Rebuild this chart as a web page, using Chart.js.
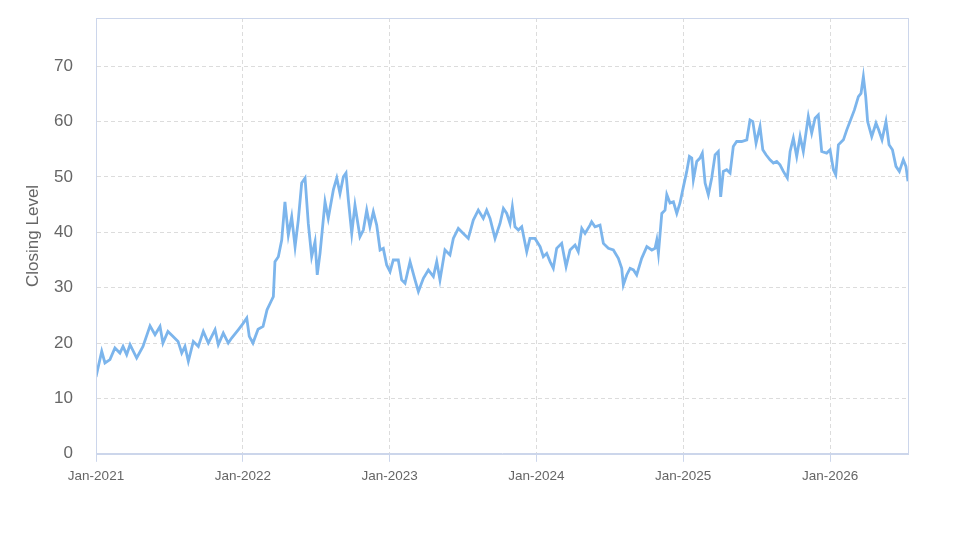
<!DOCTYPE html>
<html>
<head>
<meta charset="utf-8">
<script src="https://cdn.jsdelivr.net/npm/chart.js@4.4.1/dist/chart.umd.min.js"></script>
<style>
  html, body { margin: 0; padding: 0; background: #ffffff; }
  #wrap { width: 973px; height: 547px; }
</style>
</head>
<body>
<div id="wrap"><canvas id="c" width="973" height="547"></canvas></div>
<script>
// Time in decimal years (2021.0 = Jan-2021)
const dates = [
  2021.000, 2021.039, 2021.061, 2021.095, 2021.129, 2021.163, 2021.184, 2021.209, 2021.232, 2021.277,
  2021.320, 2021.368, 2021.402, 2021.436, 2021.456, 2021.490, 2021.525, 2021.559, 2021.584, 2021.606,
  2021.629, 2021.663, 2021.697, 2021.731, 2021.765, 2021.811, 2021.833, 2021.867, 2021.901, 2021.924,
  2021.969, 2022.001, 2022.027, 2022.044, 2022.069, 2022.104, 2022.138, 2022.165, 2022.192, 2022.208,
  2022.219, 2022.242, 2022.265, 2022.287, 2022.310, 2022.333, 2022.356, 2022.378, 2022.401, 2022.424,
  2022.446, 2022.469, 2022.492, 2022.507, 2022.526, 2022.560, 2022.582, 2022.617, 2022.640, 2022.662,
  2022.685, 2022.703, 2022.719, 2022.742, 2022.764, 2022.798, 2022.821, 2022.844, 2022.866, 2022.889,
  2022.912, 2022.935, 2022.957, 2022.980, 2023.003, 2023.025, 2023.059, 2023.082, 2023.105, 2023.139,
  2023.173, 2023.196, 2023.230, 2023.264, 2023.298, 2023.321, 2023.343, 2023.377, 2023.411, 2023.434,
  2023.468, 2023.502, 2023.536, 2023.570, 2023.604, 2023.638, 2023.661, 2023.684, 2023.718, 2023.752,
  2023.775, 2023.798, 2023.820, 2023.836, 2023.854, 2023.877, 2023.900, 2023.934, 2023.956, 2023.990,
  2024.025, 2024.047, 2024.070, 2024.093, 2024.115, 2024.138, 2024.172, 2024.202, 2024.229, 2024.263,
  2024.285, 2024.309, 2024.331, 2024.365, 2024.376, 2024.399, 2024.433, 2024.456, 2024.490, 2024.524,
  2024.558, 2024.581, 2024.592, 2024.615, 2024.638, 2024.661, 2024.683, 2024.717, 2024.752, 2024.786,
  2024.808, 2024.820, 2024.831, 2024.854, 2024.876, 2024.888, 2024.910, 2024.933, 2024.956, 2024.978,
  2025.001, 2025.024, 2025.042, 2025.058, 2025.069, 2025.092, 2025.114, 2025.130, 2025.149, 2025.171,
  2025.194, 2025.217, 2025.239, 2025.255, 2025.273, 2025.296, 2025.319, 2025.341, 2025.364, 2025.398,
  2025.433, 2025.455, 2025.474, 2025.496, 2025.523, 2025.542, 2025.564, 2025.591, 2025.614, 2025.637,
  2025.659, 2025.682, 2025.709, 2025.728, 2025.750, 2025.773, 2025.796, 2025.818, 2025.852, 2025.875,
  2025.898, 2025.920, 2025.943, 2025.977, 2026.000, 2026.023, 2026.039, 2026.057, 2026.091, 2026.114,
  2026.136, 2026.166, 2026.193, 2026.211, 2026.227, 2026.243, 2026.256, 2026.284, 2026.313, 2026.331,
  2026.354, 2026.381, 2026.402, 2026.425, 2026.449, 2026.472, 2026.499, 2026.517, 2026.531
];
const closing = [
  13.9, 18.5, 16.4, 17.0, 19.1, 18.2, 19.4, 17.9, 19.7, 17.3,
  19.4, 23.1, 21.5, 23.0, 20.0, 22.1, 21.2, 20.3, 18.2, 19.4,
  16.7, 20.3, 19.4, 22.1, 20.0, 22.4, 19.7, 21.8, 20.0, 20.9,
  22.4, 23.5, 24.5, 21.2, 20.0, 22.5, 23.0, 26.0, 27.5, 28.4,
  34.7, 35.6, 38.6, 45.5, 39.5, 42.8, 37.4, 42.2, 48.9, 49.8,
  41.6, 35.6, 38.3, 32.3, 36.2, 45.5, 42.5, 47.7, 49.8, 47.0,
  50.0, 50.7, 45.8, 39.8, 44.9, 39.2, 40.4, 44.0, 41.0, 43.7,
  41.3, 36.8, 37.1, 34.1, 32.9, 35.0, 35.0, 31.4, 30.8, 34.7,
  31.4, 29.3, 31.7, 33.2, 32.0, 34.7, 31.4, 36.8, 35.9, 38.9,
  40.7, 39.8, 38.9, 42.2, 44.0, 42.5, 44.0, 42.5, 38.9, 41.6,
  44.3, 43.4, 41.6, 44.6, 41.0, 40.4, 41.0, 36.5, 38.9, 38.9,
  37.4, 35.6, 36.2, 34.7, 33.5, 37.1, 38.0, 33.8, 36.8, 37.7,
  36.5, 40.7, 39.8, 41.3, 41.9, 41.0, 41.3, 38.0, 37.1, 36.8,
  35.3, 33.5, 30.5, 32.3, 33.5, 33.2, 32.3, 35.3, 37.4, 36.8,
  37.1, 38.6, 36.2, 43.4, 44.0, 46.8, 45.3, 45.5, 43.4, 45.3,
  48.2, 51.0, 53.7, 53.4, 49.5, 52.8, 53.4, 54.3, 48.9, 46.8,
  49.8, 54.0, 54.6, 46.4, 51.0, 51.3, 50.7, 55.5, 56.4, 56.4,
  56.7, 60.3, 60.0, 56.1, 59.1, 54.9, 54.0, 53.1, 52.5, 52.8,
  52.2, 51.0, 49.8, 54.6, 57.0, 53.7, 57.3, 54.6, 60.9, 57.9,
  60.6, 61.2, 54.6, 54.3, 54.9, 51.3, 50.4, 55.8, 56.7, 58.5,
  60.0, 62.1, 64.5, 65.1, 68.1, 64.5, 60.0, 57.3, 59.7, 58.5,
  56.7, 60.0, 55.8, 54.9, 51.9, 51.0, 53.1, 51.9, 49.2
];
const xTickValues = [2021, 2022, 2023, 2024, 2025, 2026];
const xTickLabels = ['Jan-2021', 'Jan-2022', 'Jan-2023', 'Jan-2024', 'Jan-2025', 'Jan-2026'];
const yTickValues = [0, 10, 20, 30, 40, 50, 60, 70];
const yTitle = 'Closing Level';

const points = dates.map((d, i) => ({ x: d, y: closing[i] }));

const frameColor = '#ccd6eb';
const gridColor = '#dcdcdc';
const textColor = '#666666';
const fontFamily = 'Liberation Sans, Arial, sans-serif';

const plotBox = {
  id: 'plotBox',
  afterDraw(chart) {
    const a = chart.chartArea, ctx = chart.ctx;
    ctx.save();
    ctx.strokeStyle = frameColor;
    ctx.lineWidth = 1;
    ctx.strokeRect(Math.round(a.left) + 0.5, Math.round(a.top) + 0.5,
      Math.round(a.right - a.left), Math.round(a.bottom - a.top));
    ctx.restore();
  }
};

new Chart(document.getElementById('c'), {
  type: 'line',
  data: {
    datasets: [{
      data: points,
      borderColor: '#7cb5ec',
      borderWidth: 2.8,
      pointRadius: 0,
      tension: 0,
      fill: false
    }]
  },
  options: {
    responsive: false,
    animation: false,
    layout: { padding: { left: 23, right: 65, top: 18, bottom: 57 } },
    plugins: { legend: { display: false }, tooltip: { enabled: false } },
    scales: {
      x: {
        type: 'linear',
        min: 2021,
        max: 2026.531,
        afterBuildTicks(scale) {
          scale.ticks = xTickValues.map(v => ({ value: v }));
        },
        ticks: {
          autoSkip: false,
          maxRotation: 0,
          color: textColor,
          font: { family: fontFamily, size: 13.5 },
          padding: 6,
          callback(value) {
            const i = xTickValues.indexOf(value);
            return i >= 0 ? xTickLabels[i] : '';
          }
        },
        grid: {
          color: gridColor,
          drawTicks: true,
          tickLength: 8,
          tickColor: frameColor,
          tickBorderDash: [],
          offset: false
        },
        border: { color: frameColor, dash: [4, 3] }
      },
      y: {
        min: 0,
        max: 78.7,
        afterBuildTicks(scale) {
          scale.ticks = yTickValues.map(v => ({ value: v }));
        },
        afterFit(scale) {
          scale.width = 73;
          scale.paddingTop = 0;
          scale.paddingBottom = 0;
        },
        ticks: {
          color: textColor,
          font: { family: fontFamily, size: 17 },
          padding: 23
        },
        grid: { color: gridColor, drawTicks: false },
        border: { color: frameColor, dash: [4, 3] },
        title: {
          display: true,
          text: yTitle,
          color: textColor,
          font: { family: fontFamily, size: 17 },
          padding: { top: 0, bottom: 0 }
        }
      }
    }
  },
  plugins: [plotBox]
});
</script>
</body>
</html>
